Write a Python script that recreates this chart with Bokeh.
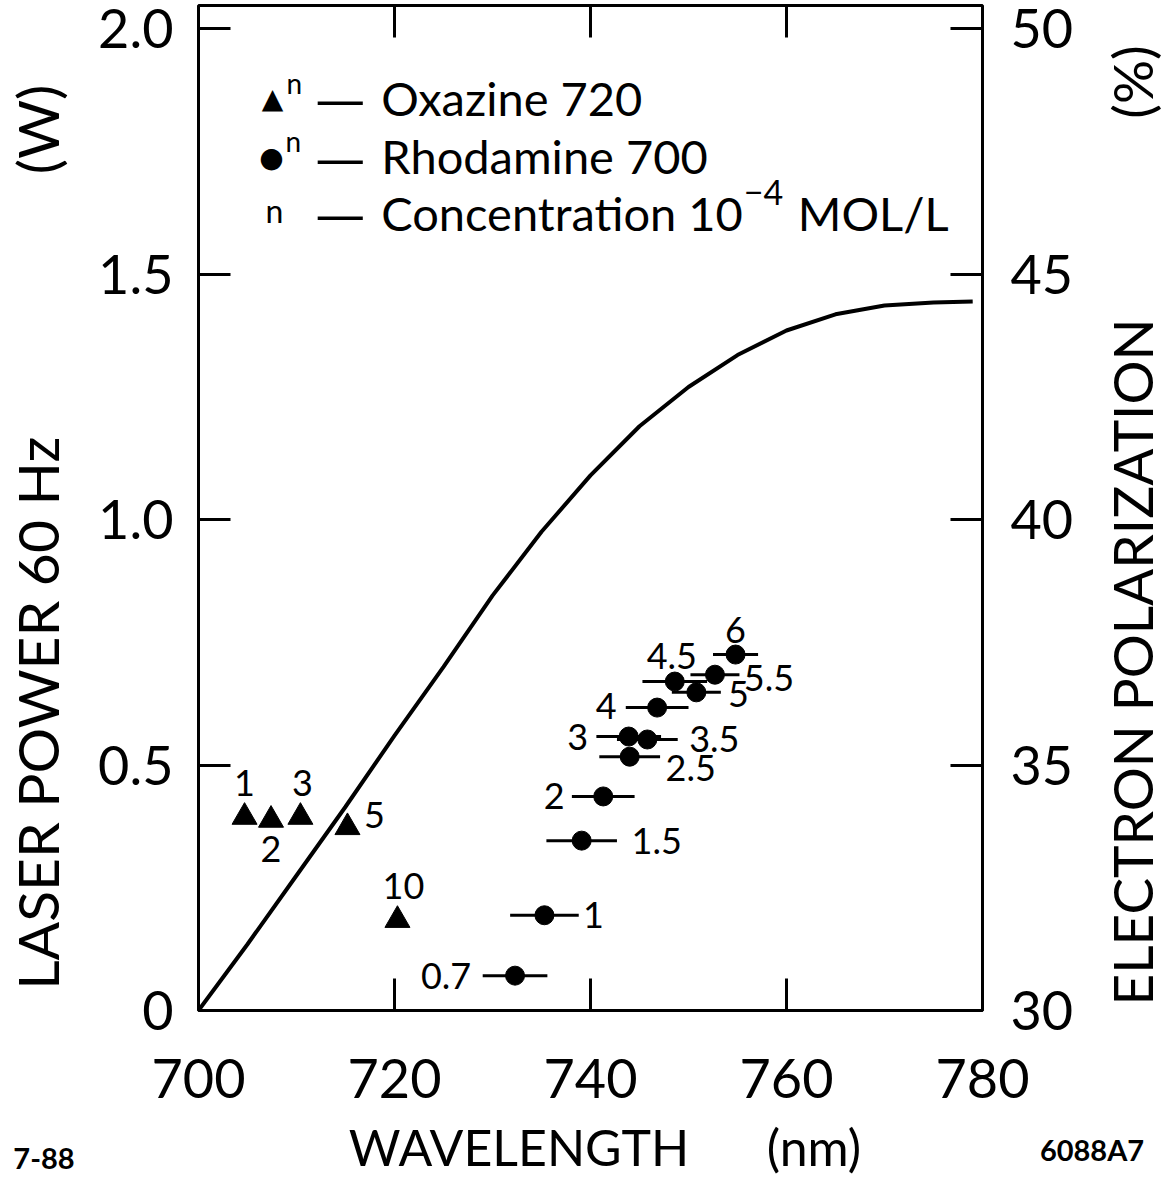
from bokeh.plotting import figure
from bokeh.layouts import column, row
from bokeh.models import Range1d, LinearAxis, FixedTicker, Label, ColumnDataSource, Div
from bokeh.core.properties import value
from bokeh.embed import file_html
from bokeh.resources import INLINE

# ---------------- data ----------------
curve_wavelength = [700, 705, 710, 715, 720, 725, 730, 735, 740, 745, 750, 755, 760, 765, 770, 775, 779]
curve_power = [0.0, 0.135, 0.275, 0.415, 0.56, 0.70, 0.845, 0.975, 1.09, 1.19, 1.27, 1.335, 1.385, 1.418, 1.436, 1.442, 1.444]

oxazine_wavelength = [704.7, 707.4, 710.4, 715.2, 720.3]
oxazine_power = [0.394, 0.388, 0.394, 0.373, 0.184]
oxazine_conc = ["1", "2", "3", "5", "10"]

rhod_wavelength = [732.3, 735.3, 739.1, 741.3, 744.0, 743.9, 745.8, 746.8, 748.6, 750.8, 752.7, 754.8]
rhod_power = [0.071, 0.194, 0.346, 0.436, 0.517, 0.558, 0.552, 0.617, 0.670, 0.648, 0.684, 0.725]
rhod_err = [3.3, 3.5, 3.6, 3.2, 3.1, 3.3, 3.1, 3.2, 3.3, 2.5, 2.5, 2.3]
rhod_conc = ["0.7", "1", "1.5", "2", "2.5", "3", "3.5", "4", "4.5", "5", "5.5", "6"]

x_ticks = [700, 720, 740, 760, 780]
y_ticks = [0, 0.5, 1.0, 1.5, 2.0]
y_tick_labels = ["0", "0.5", "1.0", "1.5", "2.0"]
y2_ticks = [30, 35, 40, 45, 50]

# label placement (screen pixel offsets, layout only)
ox_dx = [0, 0, 2, 27, 6]
ox_dy = [-34, 29, -34, -12, -34]
rh_dx = [-69, 49, 75, -49, 61, -51, 67, -51, -3, 42, 54, 0]
rh_dy = [0, 0, 0, 0, 11, 0, 0, -2, -26, 2, 3, -25]

FONT = "Lato"
NB = "\u00a0"
TOTAL_W = 1158
RW = 72                 # strip on the right holding the right-hand title
W, H = TOTAL_W - RW, 1112
Y_TOP = 2.047

p = figure(width=W, height=H, x_range=Range1d(700, 780), y_range=Range1d(0, Y_TOP),
           output_backend="svg", toolbar_location=None,
           x_axis_location=None, y_axis_location=None,
           min_border_left=197, min_border_right=W - 982, min_border_top=5, min_border_bottom=102)
p.extra_y_ranges = {"pol": Range1d(30, 30 + Y_TOP * 10)}
p.grid.visible = False
p.outline_line_color = "black"
p.outline_line_width = 3
p.outline_line_alpha = 1.0
p.background_fill_color = "white"
p.border_fill_color = "white"


def style(ax, standoff):
    ax.axis_line_color = None
    ax.major_tick_in = 32
    ax.major_tick_out = 0
    ax.major_tick_line_width = 3
    ax.major_tick_line_color = "black"
    ax.minor_tick_line_color = None
    ax.major_label_text_font = FONT
    ax.major_label_text_font_size = "54px"
    ax.major_label_text_color = "black"
    ax.major_label_standoff = standoff
    ax.axis_label_text_font = FONT
    ax.axis_label_text_font_style = "normal"
    ax.axis_label_text_color = "black"


bottom = LinearAxis(ticker=FixedTicker(ticks=x_ticks))
style(bottom, 48)
p.add_layout(bottom, "below")

top = LinearAxis(ticker=FixedTicker(ticks=[720, 740, 760]),
                 major_label_overrides={720: "", 740: "", 760: ""})
style(top, 0)
top.major_label_text_font_size = "1px"
p.add_layout(top, "above")

left = LinearAxis(ticker=FixedTicker(ticks=y_ticks),
                  major_label_overrides={t: s for t, s in zip(y_ticks, y_tick_labels)})
style(left, 25)
left.axis_label = "LASER POWER 60 Hz" + NB * 18 + "(W)" + NB * 4
left.axis_label_text_font_size = "57px"
left.axis_label_standoff = 24
p.add_layout(left, "left")

right = LinearAxis(ticker=FixedTicker(ticks=y2_ticks), y_range_name="pol")
style(right, 28)
p.add_layout(right, "right")

# curve
p.line(curve_wavelength, curve_power, line_width=4, line_color="black")

# oxazine
ox = ColumnDataSource(dict(x=oxazine_wavelength, y=oxazine_power, t=oxazine_conc, dx=ox_dx, dy=ox_dy))
p.scatter("x", "y", source=ox, marker="triangle", size=25, fill_color="black", line_color="black")
p.text("x", "y", text="t", source=ox, x_offset="dx", y_offset="dy", text_font=value(FONT),
       text_font_size="36px", text_align="center", text_baseline="middle", text_color="black")

# rhodamine
rh = ColumnDataSource(dict(x=rhod_wavelength, y=rhod_power, t=rhod_conc, dx=rh_dx, dy=rh_dy,
                           x0=[a - b for a, b in zip(rhod_wavelength, rhod_err)],
                           x1=[a + b for a, b in zip(rhod_wavelength, rhod_err)]))
p.segment("x0", "y", "x1", "y", source=rh, line_width=3, line_color="black")
p.scatter("x", "y", source=rh, marker="circle", size=19, fill_color="black", line_color="black")
p.text("x", "y", text="t", source=rh, x_offset="dx", y_offset="dy", text_font=value(FONT),
       text_font_size="36px", text_align="center", text_baseline="middle", text_color="black")


# page-pixel -> data helpers (layout only)
def dx(px):
    return 700 + (px - 205) / 9.8125


def dy(py):
    return (1018 - py) / 491.0


def lab(px, py, text, size, align="left", font=FONT):
    p.add_layout(Label(x=dx(px), y=dy(py), text=text, text_font=font, text_font_size=size,
                       text_align=align, text_baseline="middle", text_color="black"))


# legend
lab(279, 106, "▲", "28px", "center", font="DejaVu Sans")
lab(293, 90, "n", "28px", "left")
lab(322, 107, "—", "50px", "left", font="DejaVu Sans")
lab(388, 105, "Oxazine 720", "47px", "left")
lab(278, 165, "●", "28px", "center", font="DejaVu Sans")
lab(292, 148, "n", "28px", "left")
lab(322, 166, "—", "50px", "left", font="DejaVu Sans")
lab(388, 163, "Rhodamine 700", "47px", "left")
lab(281, 218, "n", "32px", "center")
lab(322, 222, "—", "50px", "left", font="DejaVu Sans")
lab(388, 220, "Concentration 10", "47px", "left")
lab(751, 200, "−4", "34px", "left")
lab(805, 220, "MOL/L", "47px", "left")


# ---------------- HTML strips for titles outside the plot ----------------
def span(x, y, text, size, weight="normal", rotate=False):
    tr = "translate(-50%,-50%)" + (" rotate(-90deg)" if rotate else "")
    return ('<span style="position:absolute;left:%dpx;top:%dpx;transform:%s;'
            'font-size:%s;font-weight:%s;white-space:nowrap;line-height:1;">%s</span>'
            % (x, y, tr, size, weight, text))


BOX = '<div style="position:relative;width:%dpx;height:%dpx;font-family:Lato,sans-serif;color:black;">'

# right-hand title (strip starts at page x = 8 + W)
rx = 1140 - (8 + W)
right_html = (BOX % (RW, H)
              + span(rx, 670 - 8, "ELECTRON POLARIZATION", "55px", rotate=True)
              + span(rx, 90 - 8, "(%)", "55px", rotate=True)
              + '</div>')
right_div = Div(text=right_html, width=RW, height=H, margin=0)

# bottom strip: x title and figure notes (strip starts at page y = 8 + H)
NH = 56
by = 8 + H
notes_html = (BOX % (TOTAL_W, NH)
              + span(527 - 8, 1155 - by, "WAVELENGTH", "50px")
              + span(822 - 8, 1155 - by, "(nm)", "50px")
              + span(52 - 8, 1165 - by, "7-88", "29px", "bold")
              + span(1100 - 8, 1157 - by, "6088A7", "29px", "bold")
              + '</div>')
notes = Div(text=notes_html, width=TOTAL_W, height=NH, margin=0)

layout = column(row(p, right_div, spacing=0), notes, spacing=0)
open("out.html", "w").write(file_html(layout, INLINE))
